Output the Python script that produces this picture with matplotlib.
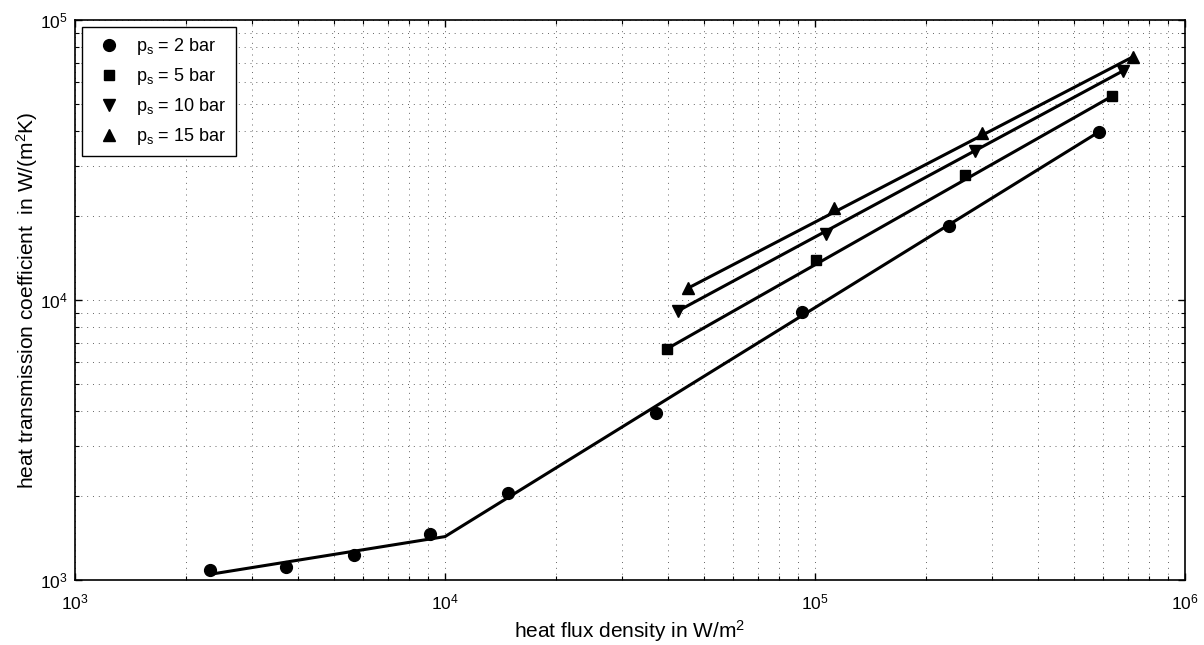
"""
Heat transmission coefficient vs heat flux density for several saturation pressures.
"""
import matplotlib
matplotlib.use("Agg")
import matplotlib.pyplot as plt

plt.rcParams['font.family'] = ['Liberation Sans', 'DejaVu Sans']
plt.rcParams['mathtext.fontset'] = 'custom'
plt.rcParams['mathtext.rm'] = 'Liberation Sans'
plt.rcParams['mathtext.it'] = 'Liberation Sans:italic'
plt.rcParams['mathtext.default'] = 'regular'

# measured points
q_2bar = [2320, 3720, 5690, 9100, 14830, 37150, 92460, 230200, 586300]
h_2bar = [1086, 1110, 1225, 1456, 2042, 3936, 9080, 18410, 39900]

q_5bar = [39720, 100500, 254300, 636800]
h_5bar = [6683, 13890, 27930, 53540]

q_10bar = [42760, 107100, 270500, 681000]
h_10bar = [9160, 17210, 34100, 65900]

q_15bar = [45290, 112500, 283300, 724000]
h_15bar = [11010, 21230, 39620, 73930]

# correlation lines
fit_q_2bar = [2340, 10000, 586300]
fit_h_2bar = [1050, 1429, 39900]
fit_q_5bar = [39720, 636800]
fit_h_5bar = [6683, 53540]
fit_q_10bar = [42760, 681000]
fit_h_10bar = [9160, 65900]
fit_q_15bar = [45290, 724000]
fit_h_15bar = [11010, 73930]

labels = [r'p$_s$ = 2 bar', r'p$_s$ = 5 bar', r'p$_s$ = 10 bar', r'p$_s$ = 15 bar']

fig = plt.figure(figsize=(12.04, 6.45), dpi=100)
ax = fig.add_axes([75 / 1204, 65 / 645, 1110 / 1204, 560 / 645])

# lines first
for fq, fh in [(fit_q_2bar, fit_h_2bar), (fit_q_5bar, fit_h_5bar),
               (fit_q_10bar, fit_h_10bar), (fit_q_15bar, fit_h_15bar)]:
    ax.plot(fq, fh, color='black', lw=2.2, solid_capstyle='butt')

# markers
ax.plot(q_2bar, h_2bar, 'o', color='black', ms=8.5, label=labels[0])
ax.plot(q_5bar, h_5bar, 's', color='black', ms=7, label=labels[1])
ax.plot(q_10bar, h_10bar, 'v', color='black', ms=9, label=labels[2])
ax.plot(q_15bar, h_15bar, '^', color='black', ms=9, label=labels[3])

ax.set_xscale('log')
ax.set_yscale('log')
ax.set_xlim(1e3, 1e6)
ax.set_ylim(1e3, 1e5)

ax.grid(True, which='both', linestyle=(0, (1, 5)), color='0.4', lw=0.7)
ax.tick_params(which='both', direction='in', top=True, right=True, labelsize=12.5)
ax.tick_params(axis='x', which='major', pad=9)
ax.tick_params(axis='y', which='major', pad=5)
ax.tick_params(which='major', length=5, width=1)
ax.tick_params(which='minor', length=3, width=0.8)
for s in ax.spines.values():
    s.set_linewidth(1.2)

ax.set_xlabel('heat flux density in W/m$^2$', fontsize=15, labelpad=4)
ax.set_ylabel('heat transmission coefficient  in W/(m$^2$K)', fontsize=15, labelpad=0)

leg = ax.legend(loc='upper left', fontsize=13, frameon=True, fancybox=False,
                edgecolor='black', framealpha=1, handlelength=2.0,
                handletextpad=0.5, labelspacing=0.5, borderaxespad=0.4,
                borderpad=0.5)
leg.get_frame().set_linewidth(1.0)

fig.savefig('out.png', dpi=100)
